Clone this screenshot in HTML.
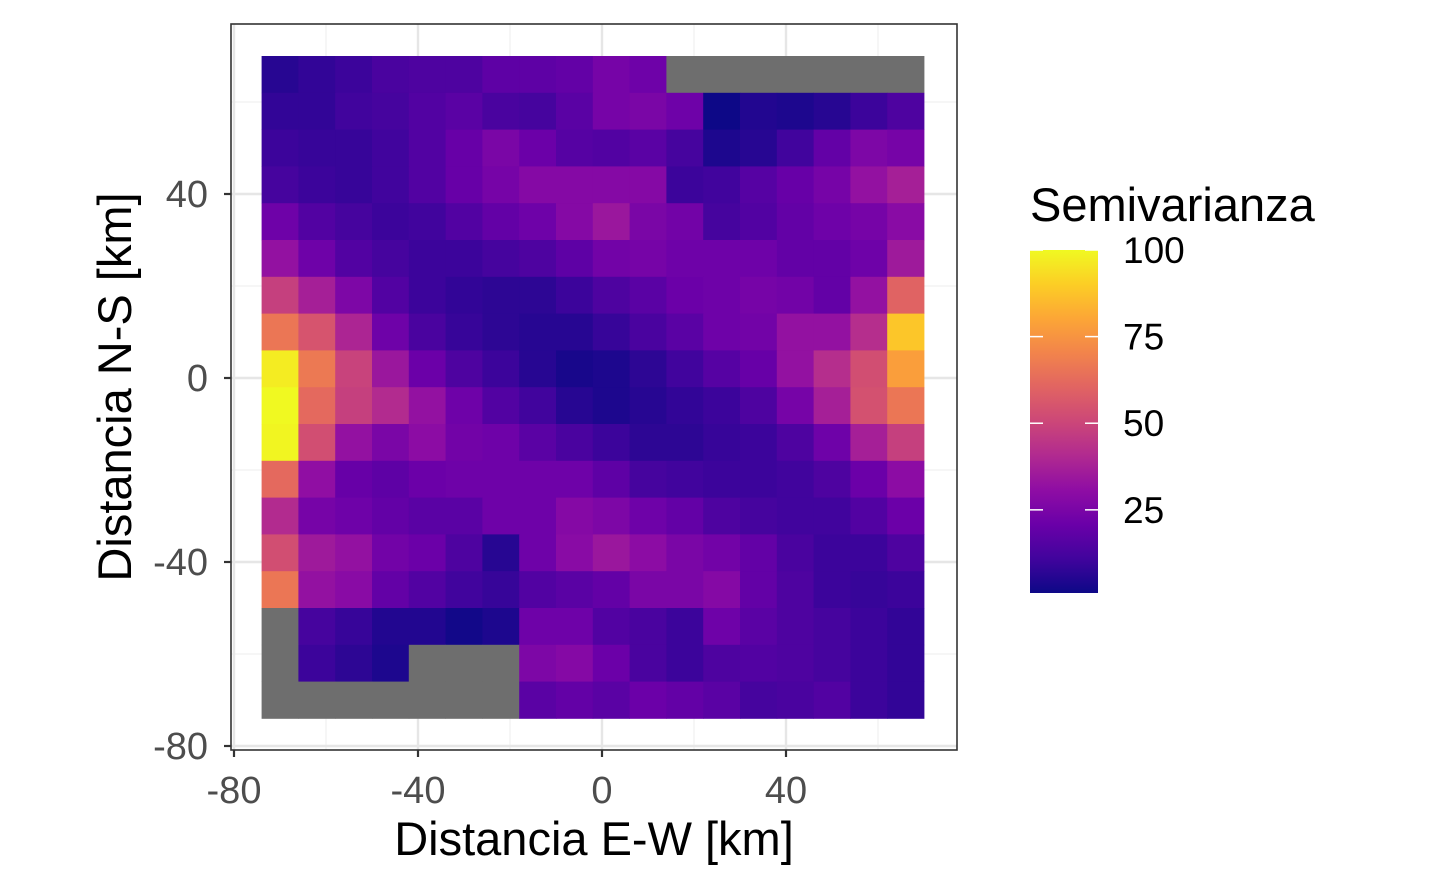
<!DOCTYPE html>
<html><head><meta charset="utf-8"><style>
body{margin:0;background:#fff;}
svg{display:block;font-family:"Liberation Sans",Arial,sans-serif;}
</style></head><body>
<svg id="chart" width="1440" height="889" xmlns="http://www.w3.org/2000/svg"></svg>
<script>
// Data: cell centers and semivariance values (null = missing)
const xCenters = [-70,-62,-54,-46,-38,-30,-22,-14,-6,2,10,18,26,34,42,50,58,66];
const yCenters = [66,58,50,42,34,26,18,10,2,-6,-14,-22,-30,-38,-46,-54,-62,-70];
const xTicks = [-80,-40,0,40];
const yTicks = [-80,-40,0,40];
const legendTicks = [25,50,75,100];
const N = null;
const row0 = [6,8,10,13,14,14,18,18,19,24,22,N,N,N,N,N,N,N];
const row1 = [8,8,11,12,15,17,13,12,17,24,25,22,1,5,4,6,10,14];
const row2 = [10,9,9,11,15,20,25,21,16,15,17,12,4,6,11,19,26,24];
const row3 = [12,10,9,11,15,20,24,28,28,28,28,10,11,16,20,24,32,37];
const row4 = [22,15,12,10,11,15,19,22,28,34,25,23,12,15,19,22,24,29];
const row5 = [32,22,15,12,10,10,12,14,18,23,24,22,22,22,19,19,22,35];
const row6 = [48,37,26,15,10,8,7,7,10,14,17,21,22,24,23,19,32,60];
const row7 = [66,55,39,22,13,9,7,6,6,9,13,17,22,23,32,32,42,88];
const row8 = [97,67,49,34,21,14,10,6,3,4,7,11,16,20,32,42,53,78];
const row9 = [100,62,48,41,32,22,15,11,6,4,6,8,10,14,24,37,54,66];
const row10 = [99,53,32,25,30,23,22,17,13,10,7,7,9,10,14,22,37,48];
const row11 = [62,31,20,18,21,22,22,22,22,18,12,11,10,10,11,14,21,30];
const row12 = [41,24,22,19,17,17,22,22,28,26,22,19,14,12,11,11,15,21];
const row13 = [53,35,32,23,21,14,6,22,29,34,30,25,23,19,13,10,10,14];
const row14 = [66,32,29,19,15,11,9,15,17,19,25,25,28,19,14,10,9,10];
const row15 = [N,12,9,5,5,2,4,22,22,15,13,10,22,17,14,12,10,8];
const row16 = [N,10,7,4,N,N,N,26,28,21,13,10,14,15,14,12,10,8];
const row17 = [N,N,N,N,N,N,N,17,19,17,21,19,17,12,13,15,10,8];
const values = [row0,row1,row2,row3,row4,row5,row6,row7,row8,row9,row10,row11,row12,row13,row14,row15,row16,row17];

const NS = "http://www.w3.org/2000/svg";
const svg = document.getElementById('chart');
const X = v => 602 + 4.6*v;
const Y = v => 378 - 4.6*v;
const cellW = 8*4.6;
const vmin = 1, vmax = 100;
const stops = ["#0d0887","#41049d","#6a00a8","#8f0da4","#b12a90","#cc4778","#e16462","#f2844b","#fca636","#fcce25","#f0f921"];
function hex(h){return [1,3,5].map(i=>parseInt(h.substr(i,2),16));}
function plasma(t){
  t=Math.max(0,Math.min(1,t));const p=t*10;const i=Math.min(9,Math.floor(p));const f=p-i;
  const a=hex(stops[i]),b=hex(stops[i+1]);
  return 'rgb('+a.map((c,k)=>Math.round(c+(b[k]-c)*f)).join(',')+')';
}
function el(tag,attrs,parent){const e=document.createElementNS(NS,tag);for(const k in attrs)e.setAttribute(k,attrs[k]);(parent||svg).appendChild(e);return e;}

const panel = el('rect',{x:231,y:24,width:726,height:726,fill:'#fff'});


[-60,-20,20,60].forEach(v=>{
  const g1=el('line',{x1:X(v),x2:X(v),y1:24,y2:750,stroke:'#f0f0f0','stroke-width':1.2});
  
  
  const g2=el('line',{y1:Y(v),y2:Y(v),x1:231,x2:957,stroke:'#f0f0f0','stroke-width':1.2});
  
  
});
xTicks.forEach(v=>{
  const g=el('line',{x1:X(v),x2:X(v),y1:24,y2:750,stroke:'#e6e6e6','stroke-width':2.4});
  
  
});
yTicks.forEach(v=>{
  const g=el('line',{y1:Y(v),y2:Y(v),x1:231,x2:957,stroke:'#e6e6e6','stroke-width':2.4});
  
  
});
values.forEach((row,ri)=>{
  row.forEach((v,ci)=>{
    const r=el('rect',{x:X(xCenters[ci]-4),y:Y(yCenters[ri]+4),width:cellW+0.4,height:cellW+0.4,fill: v===null?'#6e6e6e':plasma((v-vmin)/(vmax-vmin))});
    
    
  });
});
const border=el('rect',{x:231,y:24,width:726,height:726,fill:'none',stroke:'#333','stroke-width':1.6});


xTicks.forEach(v=>{
  const t=el('line',{x1:X(v),x2:X(v),y1:750,y2:757,stroke:'#333','stroke-width':2.2});
  
  
  const l=el('text',{x:X(v),y:803,'text-anchor':'middle','font-size':38,fill:'#4d4d4d'});
  l.textContent=v;
  
  
});
yTicks.forEach(v=>{
  const t=el('line',{x1:224,x2:231,y1:Y(v),y2:Y(v),stroke:'#333','stroke-width':2.2});
  
  
  const l=el('text',{x:208,y:Y(v)+13,'text-anchor':'end','font-size':38,fill:'#4d4d4d'});
  l.textContent=v;
  
  
});
const xt=el('text',{x:594,y:855,'text-anchor':'middle','font-size':47,fill:'#000'});
xt.textContent='Distancia E-W [km]';


const yt=el('text',{x:0,y:0,'text-anchor':'middle','font-size':47,fill:'#000',transform:'translate(131,387) rotate(-90)'});
yt.textContent='Distancia N-S [km]';


const lt=el('text',{x:1030,y:221,'font-size':47,fill:'#000'});
lt.textContent='Semivarianza';


const defs=el('defs',{});
const grad=el('linearGradient',{id:'pg',x1:0,y1:1,x2:0,y2:0},defs);
stops.forEach((c,i)=>el('stop',{offset:(i*10)+'%','stop-color':c},grad));
const LB=593, LT=250;
const LY = v => LB - (v-vmin)/(vmax-vmin)*(LB-LT);
const bar=el('rect',{x:1030,y:LT,width:68,height:LB-LT,fill:'url(#pg)'});


legendTicks.forEach(v=>{
  el('line',{x1:1030,x2:1043,y1:LY(v),y2:LY(v),stroke:'#fff','stroke-width':1.5});
  el('line',{x1:1085,x2:1098,y1:LY(v),y2:LY(v),stroke:'#fff','stroke-width':1.5});
  const l=el('text',{x:1123,y:LY(v)+13,'font-size':37,fill:'#000'});
  l.textContent=v;
  
  
});
</script>
</body></html>
